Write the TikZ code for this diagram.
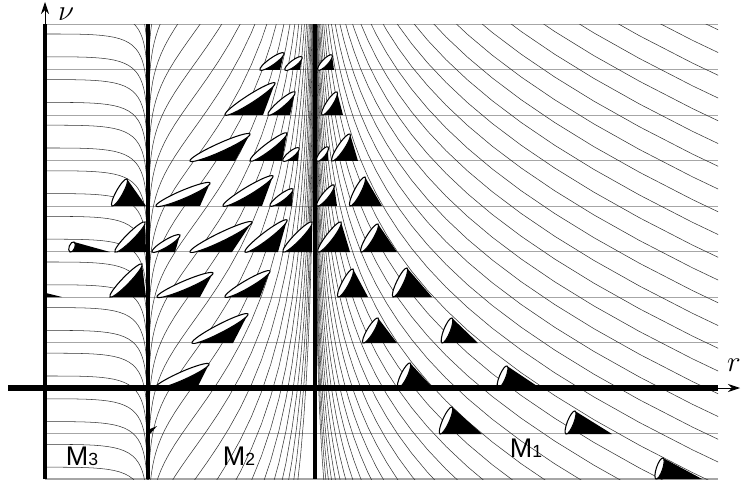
\documentclass[tikz,border=0pt]{standalone}
\usepackage{fontspec}
\setsansfont{Liberation Sans}
\usetikzlibrary{arrows.meta}

\tikzset{
  grid line/.style={gray!70, line width=0.9pt},
  ray/.style={black!80, line width=0.45pt},
  wall/.style={line width=3.4pt},
  cone rim/.style={fill=white, draw=black, line width=0.9pt},
  region/.style={font=\sffamily\fontsize{23}{26}\selectfont},
  axis label/.style={inner sep=0pt, font=\fontsize{23}{25}\selectfont},
  declare function={sp(\u)=max(\u,0)+ln(1+exp(-abs(\u)));}
}

\newcommand{\lcone}[5]{%
  \fill (#1,#2) -- (#3,#2) -- (#4,#5) -- cycle;
  \pgfmathsetmacro\cx{(#3+#4)/2}%
  \pgfmathsetmacro\cy{(#2+#5)/2}%
  \pgfmathsetmacro\ca{atan2(#2-#5,#4-#3)}%
  \pgfmathsetmacro\cl{0.015*veclen(#4-#3,#5-#2)}%
  \pgfmathsetmacro\cw{0.03*(2.6+0.025*veclen(#4-#3,#5-#2))}%
  \draw[cone rim] (\cx,\cy) ellipse[x radius=\cl cm, y radius=\cw cm, rotate=\ca];
}

\begin{document}
\begin{tikzpicture}[x=0.03cm, y=-0.03cm]
\useasboundingbox (0,0) rectangle (741,487);
\coordinate (nubot) at (45,479);
\coordinate (nutop) at (45,24.5);
\coordinate (nutip) at (45,2);
\coordinate (rleft) at (8,388);
\coordinate (rend) at (718,388);
\coordinate (rtip) at (740,388);
\coordinate (innertop) at (148,24.5);
\coordinate (innerbot) at (148,479);
\coordinate (outertop) at (315,24.5);
\coordinate (outerbot) at (315,479);

\foreach \k in {0,...,10}
  \draw[grid line] (45,{24.5+45.45*\k}) -- (718,{24.5+45.45*\k});

\begin{scope}
\clip (45,24.5) rectangle (148,479);
\foreach \k in {-8,...,19}
  \draw[ray] plot[domain=0:6.4, samples=80]
    ({45+103*(1-exp(-\x*\x))},
     {34+22.8*\k+32*(1-exp(-\x*\x)+4.2381*ln(1.6214+exp(-\x*\x))+0.61675*\x*\x-4.0843)});
\end{scope}

\begin{scope}
\clip (148,24.5) rectangle (315,479);
\foreach \k in {0,...,26}
  \draw[ray] plot[domain=-32:8, samples=150]
    ({45+103*(1+1.6214*exp(-sp(-(\x))))},
     {-120+32*\k+36*(1.6214*exp(-sp(-(\x)))+1-4.2381*sp(\x)+0.61675*sp(-(\x))+0.6995)});
\end{scope}

\begin{scope}
\clip (315,24.5) rectangle (718,479);
\foreach \k in {0,...,41}
  \draw[ray] plot[domain=-12:1.45, samples=90]
    ({45+103*(2.6214+exp(\x))},
     {30+22.75*\k+25*(exp(\x)+4.2381*\x-0.61675*ln(1.6214+exp(\x))-8.639)});
\end{scope}

\lcone{146}{206}{112}{127}{179}
\lcone{110}{252}{70}{74}{242}
\lcone{146}{252}{115}{145}{222}
\lcone{146}{297}{110}{142}{264}
\fill (46,297) -- (62,297) -- (46,293) -- cycle;
\fill (150,434) -- (157,426) -- (150,429) -- cycle;

\lcone{280}{70}{260}{284}{53}
\lcone{300}{70}{285}{302}{57}
\lcone{263}{115}{225}{275}{83}
\lcone{290}{115}{268}{295}{92}
\lcone{235}{161}{190}{250}{134}
\lcone{282}{161}{250}{287}{133}
\lcone{298}{161}{283}{299}{148}
\lcone{200}{206}{156}{210}{183}
\lcone{262}{206}{223}{273}{176}
\lcone{292}{206}{270}{293}{189}
\lcone{175}{252}{152}{180}{235}
\lcone{232}{252}{190}{252}{222}
\lcone{278}{252}{245}{287}{220}
\lcone{312}{252}{283}{312}{222}
\lcone{200}{297}{157}{213}{273}
\lcone{260}{297}{225}{270}{271}
\lcone{233}{343}{192}{248}{314}
\lcone{197}{388}{155}{209}{364}

\lcone{334}{70}{318}{332}{55}
\lcone{343}{115}{322}{337}{92}
\lcone{328}{161}{317}{328}{147}
\lcone{358}{161}{332}{350}{134}
\lcone{337}{206}{317}{334}{185}
\lcone{382}{206}{350}{365}{177}
\lcone{350}{252}{318}{341}{222}
\lcone{397}{252}{361}{378}{224}
\lcone{368}{297}{338}{353}{269}
\lcone{432}{297}{393}{407}{268}
\lcone{397}{343}{363}{378}{318}
\lcone{478}{343}{442}{452}{318}
\lcone{433}{388}{398}{410}{363}
\lcone{540}{388}{498}{507}{366}
\lcone{482}{434}{440}{452}{407}
\lcone{612}{434}{566}{575}{411}
\lcone{702}{479}{656}{663}{458}

\draw[wall] (innertop) -- (innerbot);
\draw[wall] (outertop) -- (outerbot);
\draw[line width=3.2pt] (nubot) -- (nutop);
\draw[line width=0.8pt, -{Stealth[length=3.6mm, width=2.4mm]}] (nutop) -- (nutip);
\draw[line width=5pt] (rleft) -- (rend);
\draw[line width=0.8pt, -{Stealth[length=3.6mm, width=2.4mm]}] (rend) -- (rtip);

\node[axis label] (nu) at (66,14) {$\nu$};
\node[axis label] (r) at (734,365) {$r$};
\node[region] (m3) at (82,456) {M{\fontsize{15}{17}\selectfont 3}};
\node[region] (m2) at (239,456) {M{\fontsize{15}{17}\selectfont 2}};
\node[region] (m1) at (526,448) {M{\fontsize{15}{17}\selectfont 1}};
\end{tikzpicture}
\end{document}
